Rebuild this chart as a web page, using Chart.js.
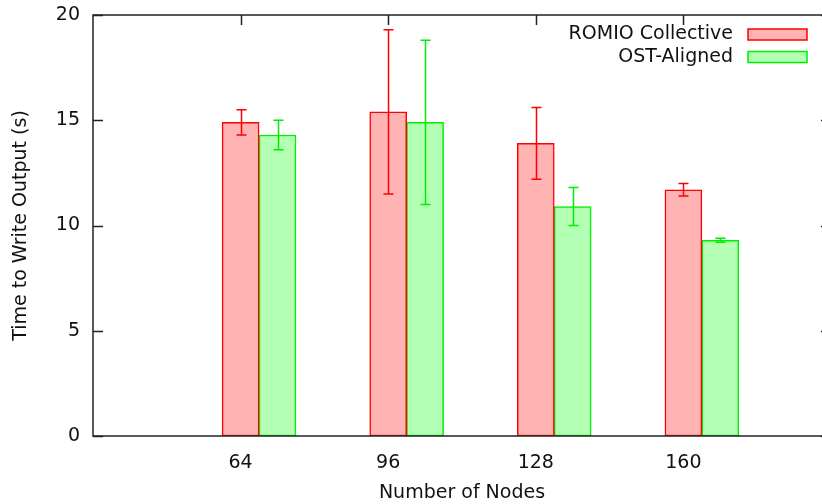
<!DOCTYPE html>
<html>
<head>
<meta charset="utf-8">
<script src="https://cdn.jsdelivr.net/npm/chart.js@4.4.1/dist/chart.umd.min.js"></script>
<style>
  html, body { margin: 0; padding: 0; background: #fff; overflow: hidden; }
  #wrap { width: 840px; height: 504px; }
</style>
</head>
<body>
<div id="wrap"><canvas id="c" width="840" height="504"></canvas></div>
<script>
/* values (seconds) */
var nodes = [64, 96, 128, 160];
var romio = [14.9, 15.4, 13.9, 11.7];
var romioErr = [0.6, 3.9, 1.7, 0.3];
var ost = [14.3, 14.9, 10.9, 9.3];
var ostErr = [0.7, 3.9, 0.9, 0.1];
var yTicks = [0, 5, 10, 15, 20];

var FONT = "'DejaVu Sans', sans-serif";
var FSIZE = 19;
var RED = "#ff0000", RED_FILL = "#ffb3b3";
var GREEN = "#00ee00", GREEN_FILL = "#b3ffb3";
var AXIS = "#222";
var CLUSTER_SHIFT = 8; /* second bar of a cluster sits one bar width to the right */

function pts(vals, shift) {
  return vals.map(function (v, i) { return { x: nodes[i] + shift, y: v }; });
}

/* error bars, inward mirrored ticks, frame and gnuplot-style key */
var gnuplotLook = {
  id: "gnuplotLook",
  afterDatasetsDraw: function (chart) {
    var ctx = chart.ctx, ys = chart.scales.y;
    var errs = [romioErr, ostErr], cols = [RED, GREEN], vals = [romio, ost];
    ctx.save();
    ctx.lineWidth = 1.5;
    for (var d = 0; d < 2; d++) {
      var meta = chart.getDatasetMeta(d);
      ctx.strokeStyle = cols[d];
      meta.data.forEach(function (bar, i) {
        var x = Math.round(bar.x) + 0.5;
        var top = ys.getPixelForValue(vals[d][i] + errs[d][i]);
        var bot = ys.getPixelForValue(vals[d][i] - errs[d][i]);
        ctx.beginPath();
        ctx.moveTo(x, top); ctx.lineTo(x, bot);
        ctx.moveTo(x - 5, top); ctx.lineTo(x + 5, top);
        ctx.moveTo(x - 5, bot); ctx.lineTo(x + 5, bot);
        ctx.stroke();
      });
    }
    ctx.restore();
  },
  afterDraw: function (chart) {
    var ctx = chart.ctx, a = chart.chartArea;
    var xs = chart.scales.x, ys = chart.scales.y;
    ctx.save();
    ctx.strokeStyle = AXIS;
    ctx.lineWidth = 1.5;
    ctx.beginPath();
    yTicks.forEach(function (t) {
      var y = Math.round(ys.getPixelForValue(t)) + 0.5;
      ctx.moveTo(a.left, y); ctx.lineTo(a.left + 10, y);
      ctx.moveTo(a.right, y); ctx.lineTo(a.right - 10, y);
    });
    nodes.forEach(function (n) {
      var x = Math.round(xs.getPixelForValue(n)) + 0.5;
      ctx.moveTo(x, a.top); ctx.lineTo(x, a.top + 10);
    });
    ctx.stroke();
    ctx.strokeRect(a.left, a.top, a.right - a.left, a.bottom - a.top);

    /* key: text right-aligned, sample box on the right */
    var labels = ["ROMIO Collective", "OST-Aligned"];
    var fills = [RED_FILL, GREEN_FILL], lines = [RED, GREEN];
    ctx.font = FSIZE + "px " + FONT;
    ctx.textAlign = "right";
    ctx.textBaseline = "middle";
    for (var k = 0; k < 2; k++) {
      var cy = 34.5 + k * 22.5;
      ctx.fillStyle = "#111";
      ctx.fillText(labels[k], 733, cy);
      ctx.fillStyle = fills[k];
      ctx.fillRect(748, cy - 5.5, 59, 11);
      ctx.strokeStyle = lines[k];
      ctx.lineWidth = 1.5;
      ctx.strokeRect(748, cy - 5.5, 59, 11);
    }
    ctx.restore();
  }
};

new Chart(document.getElementById("c").getContext("2d"), {
  type: "bar",
  data: {
    datasets: [
      { label: "ROMIO Collective", data: pts(romio, 0), backgroundColor: RED_FILL, borderColor: RED,
        borderWidth: 1.5, borderSkipped: false, grouped: false, barThickness: 37 },
      { label: "OST-Aligned", data: pts(ost, CLUSTER_SHIFT), backgroundColor: GREEN_FILL, borderColor: GREEN,
        borderWidth: 1.5, borderSkipped: false, grouped: false, barThickness: 37 }
    ]
  },
  options: {
    responsive: false,
    animation: false,
    devicePixelRatio: 1,
    layout: { padding: { left: 0, top: 15, right: 9, bottom: 0 } },
    plugins: { legend: { display: false }, tooltip: { enabled: false } },
    scales: {
      x: {
        type: "linear",
        offset: false,
        min: 32, max: 192,
        afterBuildTicks: function (s) { s.ticks = nodes.map(function (n) { return { value: n }; }); },
        afterFit: function (s) { s.height = 68; s.paddingLeft = 0; s.paddingRight = 0; },
        grid: { display: false, drawTicks: false, offset: false },
        border: { display: false },
        ticks: { color: "#111", font: { family: FONT, size: FSIZE }, padding: 16, autoSkip: false, maxRotation: 0 },
        title: { display: true, text: "Number of Nodes", color: "#111", font: { family: FONT, size: FSIZE }, padding: { top: 0, bottom: 0 } }
      },
      y: {
        min: 0, max: 20,
        afterBuildTicks: function (s) { s.ticks = yTicks.map(function (t) { return { value: t }; }); },
        afterFit: function (s) { s.width = 93; s.paddingTop = 0; s.paddingBottom = 0; },
        grid: { display: false, drawTicks: false },
        border: { display: false },
        ticks: { color: "#111", font: { family: FONT, size: FSIZE }, padding: 13 },
        title: { display: true, text: "Time to Write Output (s)", color: "#111", font: { family: FONT, size: FSIZE }, padding: { top: 10, bottom: 0 } }
      }
    }
  },
  plugins: [gnuplotLook]
});
</script>
</body>
</html>
